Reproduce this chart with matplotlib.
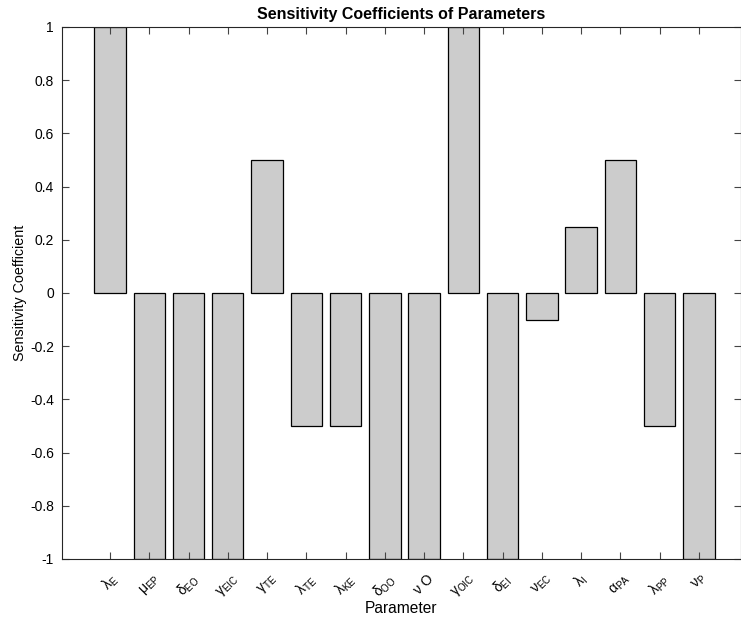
import numpy as np
import matplotlib
matplotlib.use("Agg")
import matplotlib.pyplot as plt
from matplotlib.transforms import ScaledTranslation

plt.rcParams['font.family'] = ['Liberation Sans', 'DejaVu Sans']
plt.rcParams['mathtext.fontset'] = 'custom'
plt.rcParams['mathtext.rm'] = 'Liberation Sans'
plt.rcParams['mathtext.it'] = 'Liberation Sans'
plt.rcParams['axes.unicode_minus'] = False

# parameter names (tick labels) and their sensitivity coefficients
params = [r'λ$_\mathrm{E}$', r'μ$_\mathrm{EP}$', r'δ$_\mathrm{EO}$', r'γ$_\mathrm{EIC}$',
          r'γ$_\mathrm{TE}$', r'λ$_\mathrm{TE}$', r'λ$_\mathrm{KE}$', r'δ$_\mathrm{OO}$',
          'ν O', r'γ$_\mathrm{OIC}$', r'δ$_\mathrm{EI}$', r'ν$_\mathrm{EC}$',
          r'λ$_\mathrm{I}$', r'α$_\mathrm{PA}$', r'λ$_\mathrm{PP}$', r'ν$_\mathrm{P}$']
coef = [1, -1, -1, -1, 0.5, -0.5, -0.5, -1, -1, 1, -1, -0.1, 0.25, 0.5, -0.5, -1]
yticks = [-1, -0.8, -0.6, -0.4, -0.2, 0, 0.2, 0.4, 0.6, 0.8, 1]

W, H = 741, 619
fig = plt.figure(figsize=(W / 100, H / 100), dpi=100)
ax = fig.add_axes([62.3 / W, (H - 559) / H, (740.5 - 62.3) / W, (559 - 27) / H])

x = np.arange(1, len(params) + 1)
ax.bar(x, coef, width=0.8, color='#cccccc', edgecolor='black', linewidth=0.9)

ax.set_xlim(-0.215, 17.06)
ax.set_ylim(-1, 1)
ax.set_yticks(yticks)
ax.set_yticklabels(['%g' % v for v in yticks])
ax.set_xticks(x)
ax.set_xticklabels(params, rotation=45, ha='center', va='top', fontsize=9.5)
shift = ScaledTranslation(5 / 100, 3 / 100, fig.dpi_scale_trans)
for lab in ax.get_xticklabels():
    lab.set_transform(lab.get_transform() + shift)

ax.tick_params(direction='in', length=5, top=True, right=True, labelsize=10,
               color='#444444', pad=6)
ax.tick_params(axis='x', pad=9)
for s in ax.spines.values():
    s.set_color('#262626')
    s.set_linewidth(0.8)

ax.set_title('Sensitivity Coefficients of Parameters', fontsize=11.5,
             fontweight='bold', pad=6)
ax.set_xlabel('Parameter', fontsize=11.2, labelpad=0)
ax.set_ylabel('Sensitivity Coefficient', fontsize=10.3, labelpad=2)

fig.savefig('out.png', dpi=100)
